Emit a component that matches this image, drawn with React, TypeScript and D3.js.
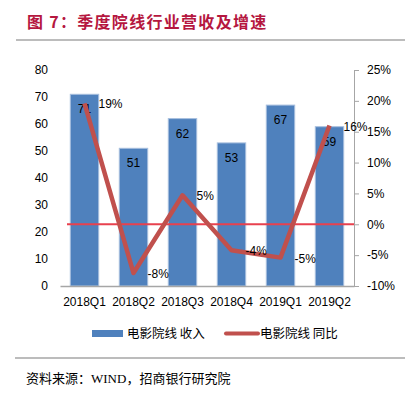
import React, { useRef, useEffect } from 'react';
import * as d3 from 'd3';

// Data
const quarters = ['2018Q1', '2018Q2', '2018Q3', '2018Q4', '2019Q1', '2019Q2'];
const revenue = [71, 51, 62, 53, 67, 59];
const growth = [19.6, -7.9, 4.7, -4.2, -5.4, 16.0];
const growthLabels = ['19%', '-8%', '5%', '-4%', '-5%', '16%'];
const leftTicks = [0, 10, 20, 30, 40, 50, 60, 70, 80];
const rightTicks = [-10, -5, 0, 5, 10, 15, 20, 25];

const NUM_FONT = '"Liberation Sans", Arial, sans-serif';
const CJK_FONT = '"Noto Sans CJK SC", sans-serif';

const App = () => {
  const chartRef = useRef<SVGSVGElement | null>(null);

  useEffect(() => {
    const width = 405;
    const height = 398;
    const plot = { left: 60, right: 354, top: 70, bottom: 286 };

    const svg = d3.select(chartRef.current);
    svg.selectAll('*').remove();
    svg.attr('width', width).attr('height', height);

    svg.append('rect').attr('width', width).attr('height', height).attr('fill', '#fff');

    // Title
    svg
      .append('text')
      .attr('x', 27)
      .attr('y', 28)
      .attr('fill', '#B5173F')
      .attr('font-family', CJK_FONT)
      .attr('font-weight', 'bold')
      .attr('font-size', 16)
      .attr('letter-spacing', 1.3)
      .text('图 7：季度院线行业营收及增速');

    svg
      .append('line')
      .attr('x1', 16)
      .attr('x2', width)
      .attr('y1', 40)
      .attr('y2', 40)
      .attr('stroke', '#A6A6A6')
      .attr('stroke-width', 1.5);

    // Scales
    const x = d3
      .scaleBand()
      .domain(quarters)
      .range([plot.left, plot.right])
      .paddingInner(0.42)
      .paddingOuter(0.21);

    const y = d3.scaleLinear().domain([0, 80]).range([plot.bottom, plot.top]);
    const y2 = d3.scaleLinear().domain([-10, 25]).range([plot.bottom, plot.top]);

    // Left axis (labels only)
    const leftAxis = svg
      .append('g')
      .attr('transform', `translate(${plot.left},0)`)
      .call(d3.axisLeft(y).tickValues(leftTicks).tickSize(0).tickPadding(12));
    leftAxis.select('.domain').remove();
    leftAxis
      .selectAll('text')
      .attr('font-family', NUM_FONT)
      .attr('font-size', 12)
      .attr('fill', '#000');

    // Right axis
    const rightAxis = svg
      .append('g')
      .attr('transform', `translate(${plot.right},0)`)
      .call(
        d3
          .axisRight(y2)
          .tickValues(rightTicks)
          .tickSize(5)
          .tickSizeOuter(0)
          .tickPadding(8)
          .tickFormat((d) => `${d}%`)
      );
    rightAxis.selectAll('.domain, line').attr('stroke', '#A6A6A6');
    rightAxis
      .selectAll('text')
      .attr('font-family', NUM_FONT)
      .attr('font-size', 12)
      .attr('fill', '#000');

    // Bars
    svg
      .selectAll('.bar')
      .data(revenue)
      .enter()
      .append('rect')
      .attr('x', (_, i) => x(quarters[i]) as number)
      .attr('y', (d) => y(d))
      .attr('width', x.bandwidth())
      .attr('height', (d) => plot.bottom - y(d))
      .attr('fill', '#4F81BD')
      .attr('stroke', '#A7BFDE')
      .attr('stroke-width', 1);

    // Bar labels
    svg
      .selectAll('.bar-label')
      .data(revenue)
      .enter()
      .append('text')
      .attr('x', (_, i) => (x(quarters[i]) as number) + x.bandwidth() / 2)
      .attr('y', (d) => y(d) + 19)
      .attr('text-anchor', 'middle')
      .attr('font-family', NUM_FONT)
      .attr('font-size', 12)
      .attr('fill', '#000')
      .text((d) => d);

    // Bottom axis
    const bottomAxis = svg
      .append('g')
      .attr('transform', `translate(0,${plot.bottom})`)
      .call(d3.axisBottom(x).tickSize(0).tickPadding(11).tickSizeOuter(0));
    bottomAxis.select('.domain').attr('stroke', '#A6A6A6').attr('stroke-width', 1.5);
    bottomAxis
      .selectAll('text')
      .attr('font-family', NUM_FONT)
      .attr('font-size', 12)
      .attr('fill', '#000');

    // Zero line for growth
    svg
      .append('line')
      .attr('x1', 67)
      .attr('x2', plot.right)
      .attr('y1', y2(0))
      .attr('y2', y2(0))
      .attr('stroke', '#E8414E')
      .attr('stroke-width', 2);

    // Growth line
    const line = d3
      .line<number>()
      .x((_, i) => (x(quarters[i]) as number) + x.bandwidth() / 2)
      .y((d) => y2(d));

    svg
      .append('path')
      .datum(growth)
      .attr('d', line)
      .attr('fill', 'none')
      .attr('stroke', '#C0504D')
      .attr('stroke-width', 4.5)
      .attr('stroke-linejoin', 'round');

    svg
      .selectAll('.growth-label')
      .data(growth)
      .enter()
      .append('text')
      .attr('x', (_, i) => (x(quarters[i]) as number) + x.bandwidth() / 2 + 14)
      .attr('y', (d) => y2(d) + 5)
      .attr('font-family', NUM_FONT)
      .attr('font-size', 12)
      .attr('fill', '#000')
      .text((_, i) => growthLabels[i]);

    // Legend
    const legend = svg.append('g');
    legend
      .append('rect')
      .attr('x', 92)
      .attr('y', 330)
      .attr('width', 31)
      .attr('height', 7)
      .attr('fill', '#4F81BD');
    legend
      .append('text')
      .attr('x', 127)
      .attr('y', 338)
      .attr('font-family', CJK_FONT)
      .attr('font-size', 12.5)
      .attr('fill', '#000')
      .text('电影院线 收入');
    legend
      .append('line')
      .attr('x1', 226)
      .attr('x2', 258)
      .attr('y1', 333.5)
      .attr('y2', 333.5)
      .attr('stroke', '#C0504D')
      .attr('stroke-width', 4)
      .attr('stroke-linecap', 'round');
    legend
      .append('text')
      .attr('x', 260)
      .attr('y', 338)
      .attr('font-family', CJK_FONT)
      .attr('font-size', 12.5)
      .attr('fill', '#000')
      .text('电影院线 同比');

    // Source
    svg
      .append('line')
      .attr('x1', 15)
      .attr('x2', width)
      .attr('y1', 358)
      .attr('y2', 358)
      .attr('stroke', '#A6A6A6')
      .attr('stroke-width', 1.5);
    svg
      .append('text')
      .attr('x', 26)
      .attr('y', 383)
      .attr('font-family', '"Liberation Serif", "Noto Sans CJK SC", serif')
      .attr('font-size', 13)
      .attr('fill', '#000')
      .text('资料来源：WIND，招商银行研究院');
  }, []);

  return (
    <svg
      ref={chartRef}
      style={{ position: 'absolute', left: 0, top: 0, display: 'block' }}
    ></svg>
  );
};

export default App;
